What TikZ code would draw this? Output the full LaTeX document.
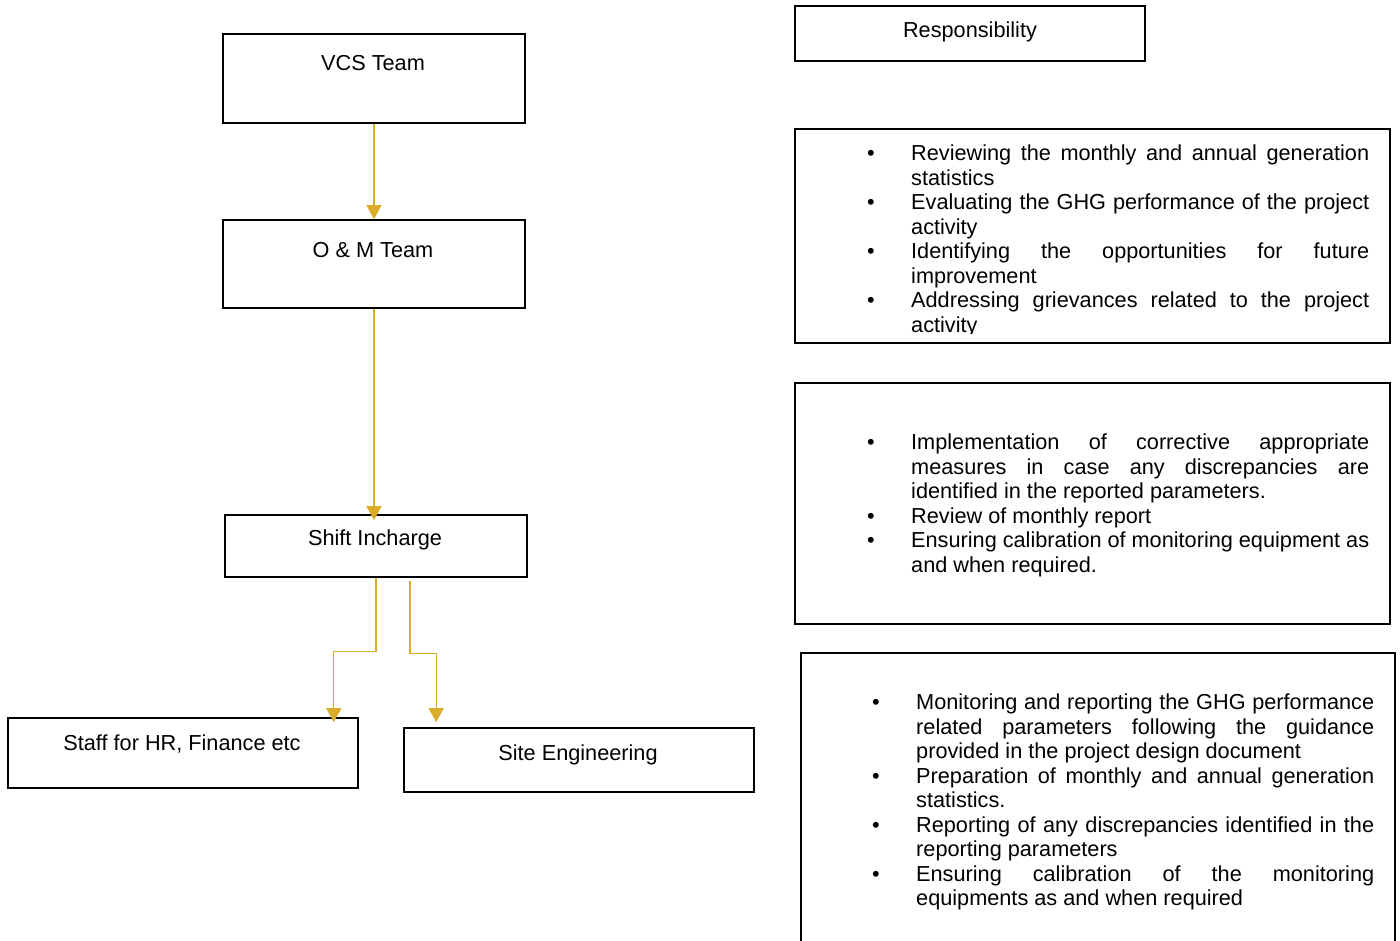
\documentclass[tikz,border=0pt]{standalone}
\usepackage{fontspec}
\setmainfont{Liberation Sans}
\usetikzlibrary{arrows.meta}
\definecolor{gold}{RGB}{217,173,42}
\newlength\BI \setlength\BI{44pt}
\newlength\TW \setlength\TW{458pt}
\newcommand\bl{\makebox[\BI][l]{•}}
\newcommand\ind{\hspace*{\BI}}
\newcommand\jst[1]{\makebox[\TW][s]{#1}}
\tikzset{
  box/.style={draw=black, line width=1.6pt, fill=white, rectangle, inner sep=0pt},
  lbl/.style={font=\fontsize{21.7}{24.5}\selectfont, anchor=base, inner sep=0pt},
  list/.style={font=\fontsize{21.7}{24.5}\selectfont, align=left, anchor=north west, inner sep=0pt},
  arr/.style={draw=gold, line width=1.3pt, -{Triangle[width=15pt,length=14pt]}}
}
\begin{document}
\begin{tikzpicture}[x=1pt,y=-1pt]
\clip (0,0) rectangle (1400,941);
\fill[white] (0,0) rectangle (1400,941);
% left hierarchy
\node[box, minimum width=302pt, minimum height=89pt] (vcs) at (374,78.5) {};
\node[lbl] (vcst) at (373,71) {VCS Team};
\node[box, minimum width=302pt, minimum height=88pt] (om) at (374,264) {};
\node[lbl] (omt) at (373,258) {O \& M Team};
\node[box, minimum width=302pt, minimum height=62pt] (shift) at (376,546) {};
\node[lbl] (shiftt) at (375,545) {Shift Incharge};
\node[box, minimum width=350pt, minimum height=70pt] (staff) at (183,753) {};
\node[lbl] (stafft) at (182,750) {Staff for HR, Finance etc};
\node[box, minimum width=350pt, minimum height=64pt] (site) at (579,760) {};
\node[lbl] (sitet) at (578,760) {Site Engineering};
% connectors
\draw[arr] (vcs.south) -- (om.north);
\draw[arr, shorten >=-6pt] (om.south) -- (om.south |- shift.north);
\draw[arr] (shift.south) -- ++(0,74) -| ([xshift=-25pt,yshift=-5pt]staff.north east);
\draw[arr] ([xshift=34pt,yshift=-3pt]shift.south) -- ++(0,73) -| ([xshift=33pt,yshift=5pt]site.north west);
% right column
\node[box, minimum width=350pt, minimum height=55pt] (resp) at (970,33.5) {};
\node[lbl] (respt) at (970,38) {Responsibility};
\node[box, minimum width=595pt, minimum height=214pt] (r1) at (1092.5,236) {};
\node[box, minimum width=595pt, minimum height=241pt] (r2) at (1092.5,503.5) {};
\node[box, minimum width=594pt, minimum height=300pt] (r3) at (1098,803) {};
\begin{scope}
\clip (795,129) rectangle (1390,333);
\node[list] (r1t) at (867,145) {%
\bl\jst{Reviewing the monthly and annual generation}\\
\ind statistics\\
\bl\jst{Evaluating the GHG performance of the project}\\
\ind activity\\
\bl\jst{Identifying the opportunities for future}\\
\ind improvement\\
\bl\jst{Addressing grievances related to the project}\\
\ind activity};
\end{scope}
\node[list] (r2t) at (867,434) {%
\bl\jst{Implementation of corrective appropriate}\\
\ind\jst{measures in case any discrepancies are}\\
\ind identified in the reported parameters.\\
\bl Review of monthly report\\
\bl\jst{Ensuring calibration of monitoring equipment as}\\
\ind and when required.};
\node[list] (r3t) at (872,694) {%
\bl\jst{Monitoring and reporting the GHG performance}\\
\ind\jst{related parameters following the guidance}\\
\ind provided in the project design document\\
\bl\jst{Preparation of monthly and annual generation}\\
\ind statistics.\\
\bl\jst{Reporting of any discrepancies identified in the}\\
\ind reporting parameters\\
\bl\jst{Ensuring calibration of the monitoring}\\
\ind equipments as and when required};
\end{tikzpicture}
\end{document}
